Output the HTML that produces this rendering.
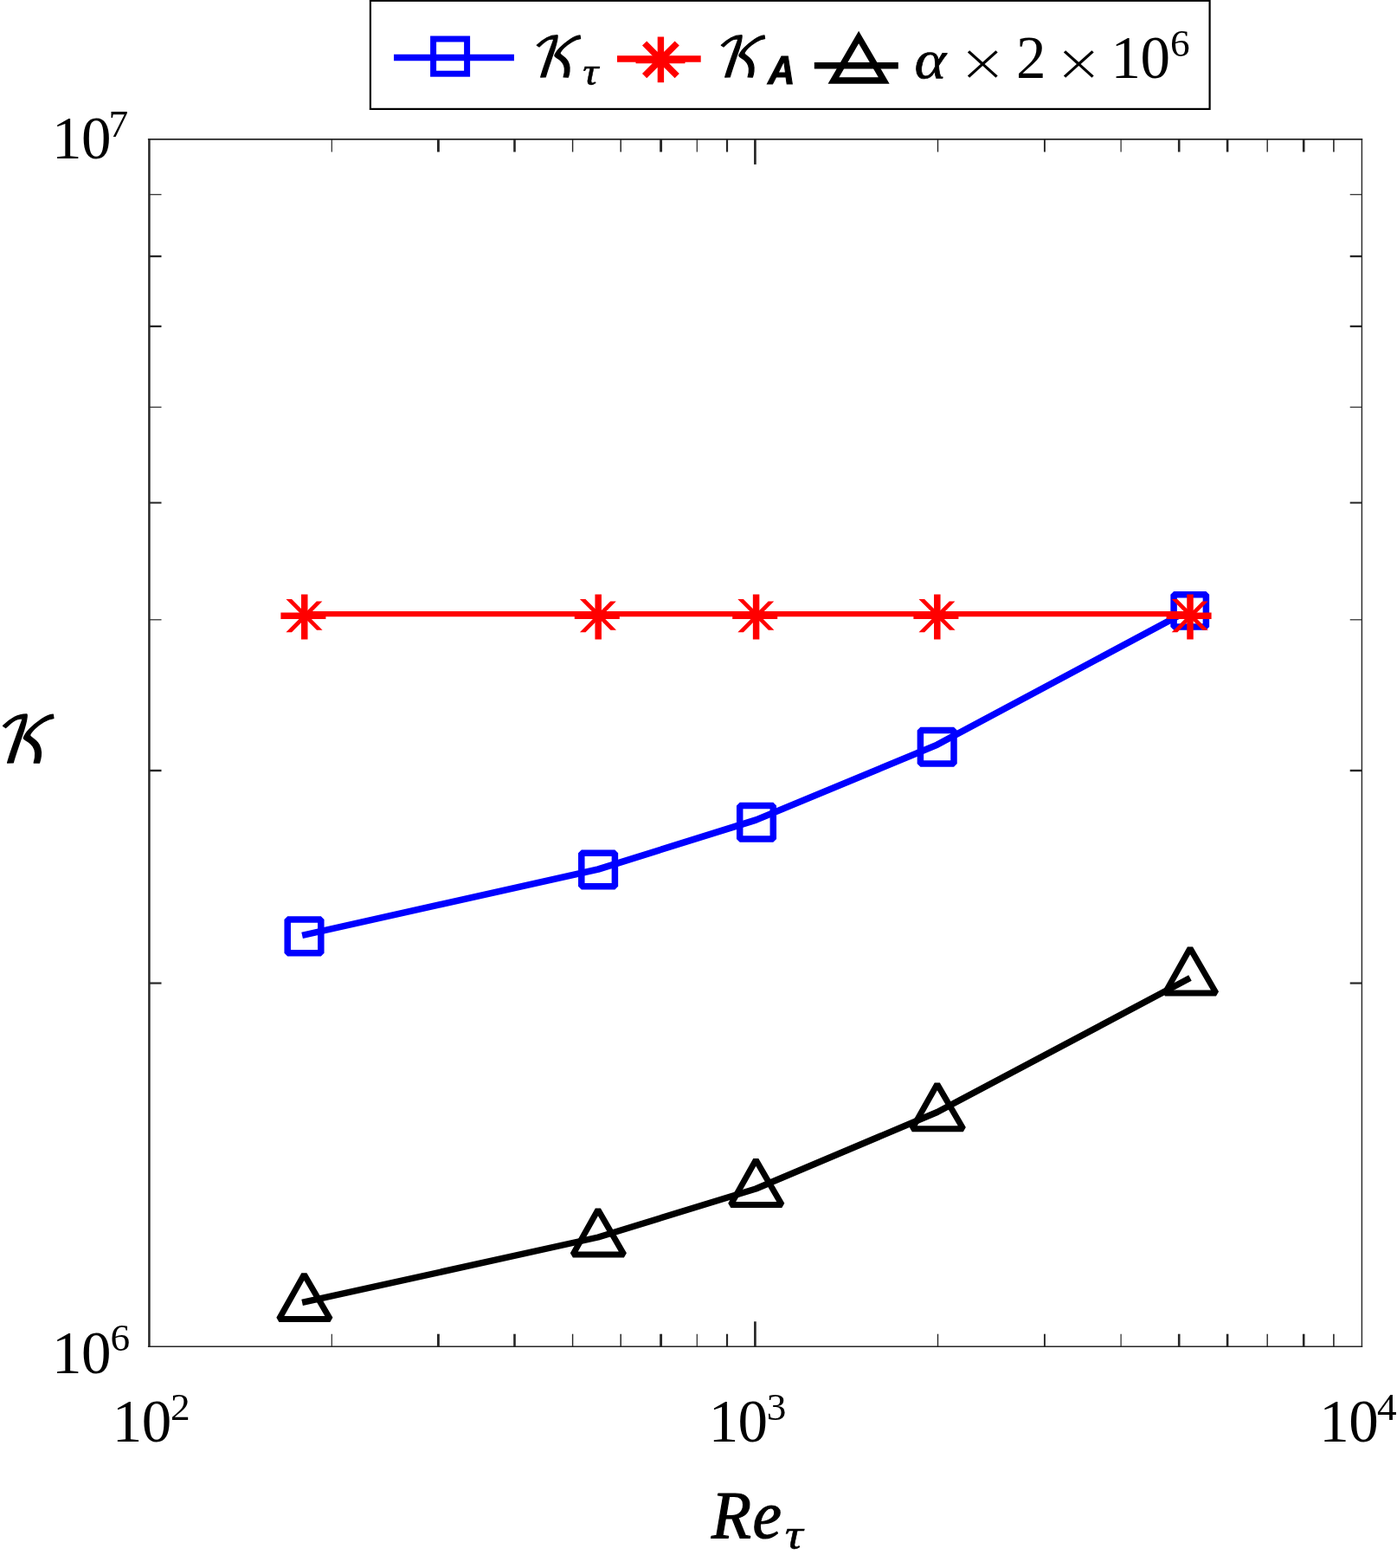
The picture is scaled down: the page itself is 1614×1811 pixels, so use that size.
<!DOCTYPE html>
<html lang="en"><head><meta charset="utf-8"><title>K versus Re_tau</title>
<style>html,body{margin:0;padding:0;background:#fff}body{width:1614px;height:1811px;overflow:hidden}svg{display:block}text{font-family:"Liberation Serif",serif;fill:#000}.it{font-style:italic}.bi{font-style:italic;font-weight:bold}.cal{font-family:"DejaVu Math TeX Gyre","DejaVu Serif",serif}.sa{font-family:"Liberation Sans",sans-serif;font-style:italic;font-weight:bold}.mul{font-family:"DejaVu Sans","Liberation Sans",sans-serif;font-weight:200}</style></head><body>
<svg role="img" aria-label="Log-log plot of K versus Re_tau" width="1614" height="1811" viewBox="0 0 1614 1811">
<rect x="0" y="0" width="1614" height="1811" fill="#fff"/>
<g stroke="#262626" fill="none" stroke-linecap="butt">
<line x1="170.90" y1="160.90" x2="1574.20" y2="160.90" stroke-width="1.7"/>
<line x1="170.90" y1="1555.30" x2="1574.20" y2="1555.30" stroke-width="1.6"/>
<line x1="172.40" y1="160.10" x2="172.40" y2="1556.10" stroke-width="2.5"/>
<line x1="1573.40" y1="160.10" x2="1573.40" y2="1556.10" stroke-width="1.4"/>
<line x1="383.3" y1="1555.30" x2="383.3" y2="1540.70" stroke-width="1.2"/>
<line x1="383.3" y1="160.90" x2="383.3" y2="175.50" stroke-width="1.2"/>
<line x1="506.4" y1="1555.30" x2="506.4" y2="1540.70" stroke-width="2.9"/>
<line x1="506.4" y1="160.90" x2="506.4" y2="175.50" stroke-width="2.9"/>
<line x1="594.5" y1="1555.30" x2="594.5" y2="1540.70" stroke-width="2.6"/>
<line x1="594.5" y1="160.90" x2="594.5" y2="175.50" stroke-width="2.6"/>
<line x1="661.6" y1="1555.30" x2="661.6" y2="1540.70" stroke-width="1.4"/>
<line x1="661.6" y1="160.90" x2="661.6" y2="175.50" stroke-width="1.4"/>
<line x1="717.2" y1="1555.30" x2="717.2" y2="1540.70" stroke-width="1.5"/>
<line x1="717.2" y1="160.90" x2="717.2" y2="175.50" stroke-width="1.5"/>
<line x1="763.6" y1="1555.30" x2="763.6" y2="1540.70" stroke-width="2.9"/>
<line x1="763.6" y1="160.90" x2="763.6" y2="175.50" stroke-width="2.9"/>
<line x1="805.3" y1="1555.30" x2="805.3" y2="1540.70" stroke-width="1.2"/>
<line x1="805.3" y1="160.90" x2="805.3" y2="175.50" stroke-width="1.2"/>
<line x1="840.0" y1="1555.30" x2="840.0" y2="1540.70" stroke-width="2.2"/>
<line x1="840.0" y1="160.90" x2="840.0" y2="175.50" stroke-width="2.2"/>
<line x1="872.4" y1="1555.30" x2="872.4" y2="1526.30" stroke-width="2.7"/>
<line x1="872.4" y1="160.90" x2="872.4" y2="189.90" stroke-width="2.7"/>
<line x1="1083.5" y1="1555.30" x2="1083.5" y2="1540.70" stroke-width="1.4"/>
<line x1="1083.5" y1="160.90" x2="1083.5" y2="175.50" stroke-width="1.4"/>
<line x1="1206.9" y1="1555.30" x2="1206.9" y2="1540.70" stroke-width="1.9"/>
<line x1="1206.9" y1="160.90" x2="1206.9" y2="175.50" stroke-width="1.9"/>
<line x1="1295.1" y1="1555.30" x2="1295.1" y2="1540.70" stroke-width="1.2"/>
<line x1="1295.1" y1="160.90" x2="1295.1" y2="175.50" stroke-width="1.2"/>
<line x1="1362.2" y1="1555.30" x2="1362.2" y2="1540.70" stroke-width="2.6"/>
<line x1="1362.2" y1="160.90" x2="1362.2" y2="175.50" stroke-width="2.6"/>
<line x1="1418.1" y1="1555.30" x2="1418.1" y2="1540.70" stroke-width="2.6"/>
<line x1="1418.1" y1="160.90" x2="1418.1" y2="175.50" stroke-width="2.6"/>
<line x1="1464.2" y1="1555.30" x2="1464.2" y2="1540.70" stroke-width="1.4"/>
<line x1="1464.2" y1="160.90" x2="1464.2" y2="175.50" stroke-width="1.4"/>
<line x1="1506.2" y1="1555.30" x2="1506.2" y2="1540.70" stroke-width="2.6"/>
<line x1="1506.2" y1="160.90" x2="1506.2" y2="175.50" stroke-width="2.6"/>
<line x1="1540.9" y1="1555.30" x2="1540.9" y2="1540.70" stroke-width="1.6"/>
<line x1="1540.9" y1="160.90" x2="1540.9" y2="175.50" stroke-width="1.6"/>
<line x1="172.40" y1="1135.54" x2="186.50" y2="1135.54" stroke-width="2.2"/>
<line x1="1573.40" y1="1135.54" x2="1559.70" y2="1135.54" stroke-width="2.2"/>
<line x1="172.40" y1="890.00" x2="186.50" y2="890.00" stroke-width="2.4"/>
<line x1="1573.40" y1="890.00" x2="1559.70" y2="890.00" stroke-width="2.4"/>
<line x1="172.40" y1="715.79" x2="186.50" y2="715.79" stroke-width="1.2"/>
<line x1="1573.40" y1="715.79" x2="1559.70" y2="715.79" stroke-width="1.2"/>
<line x1="172.40" y1="580.66" x2="186.50" y2="580.66" stroke-width="2.0"/>
<line x1="1573.40" y1="580.66" x2="1559.70" y2="580.66" stroke-width="2.0"/>
<line x1="172.40" y1="470.25" x2="186.50" y2="470.25" stroke-width="1.2"/>
<line x1="1573.40" y1="470.25" x2="1559.70" y2="470.25" stroke-width="1.2"/>
<line x1="172.40" y1="376.90" x2="186.50" y2="376.90" stroke-width="2.3"/>
<line x1="1573.40" y1="376.90" x2="1559.70" y2="376.90" stroke-width="2.3"/>
<line x1="172.40" y1="296.03" x2="186.50" y2="296.03" stroke-width="2.3"/>
<line x1="1573.40" y1="296.03" x2="1559.70" y2="296.03" stroke-width="2.3"/>
<line x1="172.40" y1="224.70" x2="186.50" y2="224.70" stroke-width="1.2"/>
<line x1="1573.40" y1="224.70" x2="1559.70" y2="224.70" stroke-width="1.2"/>
</g>
<g stroke="#0000ff" fill="none" stroke-width="7.6">
<polyline points="349.1,1080.4 691.1,1004.0 873.5,947.0 1082.7,860.2 1364.0,709.9" stroke-linejoin="round"/>
<rect x="332.2" y="1062.1" width="38.6" height="38.6" stroke-width="7.5" stroke-linejoin="bevel"/>
<rect x="671.8" y="985.2" width="38.6" height="38.6" stroke-width="7.5" stroke-linejoin="bevel"/>
<rect x="854.7" y="930.4" width="38.6" height="38.6" stroke-width="7.5" stroke-linejoin="bevel"/>
<rect x="1063.4" y="843.4" width="38.6" height="38.6" stroke-width="7.5" stroke-linejoin="bevel"/>
<rect x="1356.1" y="686.8" width="37.3" height="37.3" stroke-width="7.5" stroke-linejoin="bevel"/>
</g>
<g stroke="#ff0000" fill="none">
<line x1="351.8" y1="709.15" x2="1375.0" y2="709.15" stroke-width="6.2"/>
<path d="M351.75 686.5V738.4M324.4 711.15H376.4" stroke-width="7.5"/>
<path d="M330.45 692.1h6.6L372.55 727.8h-6.6zM365.75 694.6h6.6L337.05 730.3h-6.6z" fill="#ff0000" stroke="none"/>
<path d="M691.20 686.5V738.4M663.8 711.15H715.8" stroke-width="7.5"/>
<path d="M669.90 692.1h6.6L712.00 727.8h-6.6zM705.20 694.6h6.6L676.50 730.3h-6.6z" fill="#ff0000" stroke="none"/>
<path d="M873.60 686.5V738.4M846.2 711.15H898.2" stroke-width="7.5"/>
<path d="M852.30 692.1h6.6L894.40 727.8h-6.6zM887.60 694.6h6.6L858.90 730.3h-6.6z" fill="#ff0000" stroke="none"/>
<path d="M1082.80 686.5V738.4M1055.4 711.15H1107.4" stroke-width="7.5"/>
<path d="M1061.50 692.1h6.6L1103.60 727.8h-6.6zM1096.80 694.6h6.6L1068.10 730.3h-6.6z" fill="#ff0000" stroke="none"/>
<path d="M1375.00 686.5V738.4M1347.6 711.15H1399.6" stroke-width="7.5"/>
<path d="M1353.70 692.1h6.6L1395.80 727.8h-6.6zM1389.00 694.6h6.6L1360.30 730.3h-6.6z" fill="#ff0000" stroke="none"/>
</g>
<g stroke="#000" fill="none" stroke-width="7.4">
<polyline points="349.1,1504.4 691.0,1429.0 873.3,1373.0 1082.8,1284.5 1375.0,1129.6" stroke-linejoin="round"/>
<path d="M351.4 1471.9L381.4 1523.5L322.4 1523.5Z" stroke-width="7" stroke-linejoin="bevel"/>
<path d="M690.9 1397.3L720.9 1448.9L661.9 1448.9Z" stroke-width="7" stroke-linejoin="bevel"/>
<path d="M873.3 1339.8L903.3 1391.4L844.3 1391.4Z" stroke-width="7" stroke-linejoin="bevel"/>
<path d="M1082.8 1252.2L1112.8 1303.8L1053.8 1303.8Z" stroke-width="7" stroke-linejoin="bevel"/>
<path d="M1375.0 1095.3L1405.0 1146.9L1346.0 1146.9Z" stroke-width="7" stroke-linejoin="bevel"/>
</g>
<rect x="427.9" y="0.8" width="969.7" height="125.1" fill="#fff" stroke="#000" stroke-width="2.2"/>
<g fill="none">
<line x1="455" y1="66.5" x2="594" y2="66.5" stroke="#0000ff" stroke-width="7.4"/>
<rect x="500.6" y="45" width="39" height="40.2" stroke="#0000ff" stroke-width="7"/>
<g stroke="#ff0000" stroke-width="7.4">
<line x1="713" y1="68" x2="809.7" y2="68"/>
<path d="M763.4 42.4V95.2M734.5 69.5H791.5M744.6 50L782.2 87.6M782.2 50L744.6 87.6"/>
</g>
<line x1="940.8" y1="75.8" x2="1037.8" y2="75.8" stroke="#000" stroke-width="7.4"/>
<path d="M992.1 43.0L1021.2 92.95H963.0Z" stroke="#000" stroke-width="7.4" stroke-linejoin="miter" stroke-miterlimit="10"/>
</g>
<text class="cal" transform="translate(610.7 89.2) skewX(-7)" font-size="63.0" stroke="#000" stroke-width="1.2" stroke-linejoin="round">𝒦</text>
<text class="it" transform="translate(673.2 97.7) scale(1.100 1)" font-size="46.0" stroke="#000" stroke-width="0.5">τ</text>
<text class="cal" transform="translate(823.8 89.2) skewX(-7)" font-size="63.0" stroke="#000" stroke-width="1.2" stroke-linejoin="round">𝒦</text>
<text class="sa" transform="translate(887.3 96.8) scale(0.950 1)" font-size="45.5" stroke="#000" stroke-width="1.1" stroke-linejoin="miter">A</text>
<text class="it" transform="translate(1056.6 90.2) scale(1.090 1)" font-size="64.0" stroke="#000" stroke-width="0.7">α</text>
<text class="mul" transform="translate(1106.9 93.1) scale(1 0.890)" font-size="67.5">×</text>
<text x="1174.1" y="90.3" font-size="69.0">2</text>
<text class="mul" transform="translate(1217.9 93.1) scale(1 0.890)" font-size="67.5">×</text>
<text x="1283.45" y="90.3" font-size="69.0" letter-spacing="-0.55">10</text><text x="1352.00" y="65.4" font-size="45.3">6</text>
<text x="59.95" y="183.0" font-size="69.0" letter-spacing="-0.55">10</text><text x="125.60" y="158.0" font-size="45.3">7</text>
<text x="59.95" y="1585.8" font-size="69.0" letter-spacing="-0.55">10</text><text x="127.40" y="1560.0" font-size="45.3">6</text>
<text x="129.75" y="1664.7" font-size="69.0" letter-spacing="-0.55">10</text><text x="197.00" y="1639.8" font-size="45.3">2</text>
<text x="818.65" y="1664.7" font-size="69.0" letter-spacing="-0.55">10</text><text x="885.70" y="1640.0" font-size="45.3">3</text>
<text x="1524.25" y="1664.7" font-size="69.0" letter-spacing="-0.55">10</text><text x="1590.90" y="1639.8" font-size="45.3">4</text>
<text class="cal" transform="translate(-7.5 881.0) skewX(-7)" font-size="73.0" stroke="#000" stroke-width="1.4" stroke-linejoin="round">𝒦</text>
<text class="it" transform="translate(822.0 1776.0) scale(0.975 1)" font-size="77.2" letter-spacing="1.6" stroke="#000" stroke-width="1.2" stroke-linejoin="round">Re</text>
<text class="it" transform="translate(906.8 1788.6) scale(1.130 1)" font-size="51.5" stroke="#000" stroke-width="0.5">τ</text>
</svg></body></html>
